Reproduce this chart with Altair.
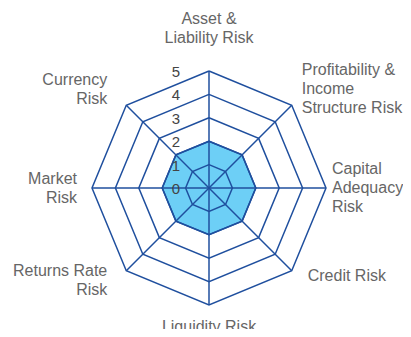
import math
import altair as alt
import pandas as pd

# ---- data ----
categories = [
    "Asset &\nLiability Risk",
    "Profitability &\nIncome\nStructure Risk",
    "Capital\nAdequacy\nRisk",
    "Credit Risk",
    "Liquidity Risk",
    "Returns Rate\nRisk",
    "Market\nRisk",
    "Currency\nRisk",
]
values = [2, 2, 2, 2, 2, 2, 2, 2]
tick_values = [0, 1, 2, 3, 4, 5]
max_value = 5

# ---- geometry (polar -> cartesian in data units) ----
n = len(categories)
angles = [math.pi / 2 - 2 * math.pi * i / n for i in range(n)]


def px(r, a):
    return r * math.cos(a)


def py(r, a):
    return r * math.sin(a)


rings = pd.DataFrame(
    [
        {"level": lv, "idx": k, "x": px(lv, angles[k % n]), "y": py(lv, angles[k % n])}
        for lv in tick_values[1:]
        for k in range(n + 1)
    ]
)
spokes = pd.DataFrame(
    [{"x": 0.0, "y": 0.0, "x2": px(max_value, a), "y2": py(max_value, a)} for a in angles]
)
poly = pd.DataFrame(
    [
        {"idx": k, "x": px(values[k % n], angles[k % n]), "y": py(values[k % n], angles[k % n])}
        for k in range(n + 1)
    ]
)
ticks = pd.DataFrame({"v": tick_values, "x": [0.0] * len(tick_values), "label": [str(t) for t in tick_values]})

# ---- scales: 23.4 px per unit, center at plot (201,180) ----
W, H = 395, 321
unit = 23.4
cx, cy = 201, 180
xs = alt.Scale(domain=[-cx / unit, (W - cx) / unit], nice=False, zero=False)
ys = alt.Scale(domain=[-(H - cy) / unit, cy / unit], nice=False, zero=False)

X = lambda f="x": alt.X(f"{f}:Q", scale=xs, axis=None)
Y = lambda f="y": alt.Y(f"{f}:Q", scale=ys, axis=None)

line_col = "#1f4f9e"
fill_col = "#6dcff6"
font = "Liberation Sans"
LH = 19

area = alt.Chart(poly).mark_line(fill=fill_col, stroke=line_col, strokeWidth=1.5).encode(
    x=X(), y=Y(), order="idx:O"
)
grid = alt.Chart(rings).mark_line(stroke=line_col, strokeWidth=1.5).encode(
    x=X(), y=Y(), detail="level:N", order="idx:O"
)
spk = alt.Chart(spokes).mark_rule(stroke=line_col, strokeWidth=1.5).encode(
    x=X(), y=Y(), x2="x2:Q", y2="y2:Q"
)
tick_txt = alt.Chart(ticks).mark_text(
    font=font, fontSize=15, color="#444444", dx=-33, dy=1, align="center", baseline="middle"
).encode(x=X(), y=Y("v"), text="label:N")

# label placement offsets (px) of the text block centre relative to each outer vertex
placement = [
    ("center", 0, -43),
    ("left", 10, -16),
    ("left", 6, 0),
    ("left", 16, 5),
    ("center", 0, 22),
    ("right", -19, 10),
    ("right", -15, 0),
    ("right", -19, -16),
]
label_layers = []
for i, (cat, a) in enumerate(zip(categories, angles)):
    al, dx, dy = placement[i]
    nl = cat.count("\n")
    df = pd.DataFrame({"x": [px(max_value, a)], "y": [py(max_value, a)], "t": [cat]})
    label_layers.append(
        alt.Chart(df)
        .mark_text(
            font=font, fontSize=16, color="#666666", align=al, baseline="middle",
            dx=dx, dy=dy - nl * LH / 2, lineBreak="\n", lineHeight=LH,
        )
        .encode(x=X(), y=Y(), text="t:N")
    )

chart = (
    alt.layer(area, grid, spk, tick_txt, *label_layers)
    .properties(width=W, height=H, padding=0, autosize="none")
    .configure_view(stroke=None)
)
chart.save("out.html", embed_options={"renderer": "svg", "actions": False})
